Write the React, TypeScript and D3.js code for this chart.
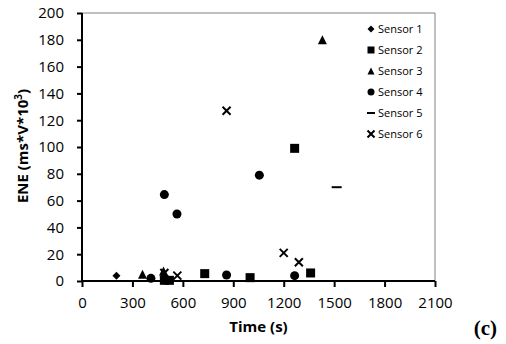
import { useEffect, useRef } from 'react'
import * as d3 from 'd3'

// values: [time (s), ENE]
const sensor1 = [[205, 4], [490, 3]]
const sensor2 = [[490, 0.5], [520, 0.5], [730, 5.5], [1000, 2.5], [1265, 99], [1360, 6]]
const sensor3 = [[360, 5], [485, 7.5], [1430, 180]]
const sensor4 = [[410, 2], [490, 64.5], [565, 50], [860, 4.5], [1055, 79], [1265, 4]]
const sensor5 = [[1515, 70]]
const sensor6 = [[490, 6], [567, 4], [860, 127], [1200, 21], [1290, 14]]

const seriesNames = ['Sensor 1', 'Sensor 2', 'Sensor 3', 'Sensor 4', 'Sensor 5', 'Sensor 6']
const xTicks = [0, 300, 600, 900, 1200, 1500, 1800, 2100]
const yTicks = [0, 20, 40, 60, 80, 100, 120, 140, 160, 180, 200]

type Shape = 'diamond' | 'square' | 'triangle' | 'circle' | 'dash' | 'cross'

const series: { name: string; shape: Shape; pts: number[][] }[] = [
  { name: seriesNames[0], shape: 'diamond', pts: sensor1 },
  { name: seriesNames[1], shape: 'square', pts: sensor2 },
  { name: seriesNames[2], shape: 'triangle', pts: sensor3 },
  { name: seriesNames[3], shape: 'circle', pts: sensor4 },
  { name: seriesNames[4], shape: 'dash', pts: sensor5 },
  { name: seriesNames[5], shape: 'cross', pts: sensor6 },
]

const FONT = '"Open Sans", sans-serif'

// draws one marker centred at 0,0
function drawMarker(g: d3.Selection<SVGGElement, unknown, null, undefined>, shape: Shape, s: number) {
  if (shape === 'diamond') {
    g.append('path').attr('d', `M0,${-s / 2}L${s / 2},0L0,${s / 2}L${-s / 2},0Z`).attr('fill', '#000')
  } else if (shape === 'square') {
    g.append('rect').attr('x', -s / 2).attr('y', -s / 2).attr('width', s).attr('height', s).attr('fill', '#000')
  } else if (shape === 'triangle') {
    g.append('path').attr('d', `M0,${-s / 2}L${s / 2},${s / 2}L${-s / 2},${s / 2}Z`).attr('fill', '#000')
  } else if (shape === 'circle') {
    g.append('circle').attr('r', s / 2).attr('fill', '#000')
  } else if (shape === 'dash') {
    g.append('line').attr('x1', -s / 2).attr('x2', s / 2).attr('stroke', '#000').attr('stroke-width', 2)
  } else {
    const h = s / 2
    g.append('path').attr('d', `M${-h},${-h}L${h},${h}M${h},${-h}L${-h},${h}`)
      .attr('stroke', '#000').attr('stroke-width', 2).attr('fill', 'none')
  }
}

export default function App() {
  const svgRef = useRef<SVGSVGElement>(null)

  useEffect(() => {
    if (!svgRef.current) return
    const width = 506
    const height = 344
    const margin = { top: 13, right: 71, bottom: 63, left: 82 }

    const svg = d3.select(svgRef.current)
    svg.selectAll('*').remove()
    svg.attr('width', width).attr('height', height)

    const innerWidth = width - margin.left - margin.right
    const innerHeight = height - margin.top - margin.bottom

    const x = d3.scaleLinear().domain([0, 2100]).range([0, innerWidth])
    const y = d3.scaleLinear().domain([0, 200]).range([innerHeight, 0])

    const g = svg.append('g').attr('transform', `translate(${margin.left},${margin.top})`)

    // plot area border (top/right)
    g.append('path')
      .attr('d', `M0,0H${innerWidth}V${innerHeight}`)
      .attr('fill', 'none')
      .attr('stroke', '#808080')
      .attr('stroke-width', 1)

    // axes
    const xAxis = g.append('g')
      .attr('transform', `translate(0,${innerHeight})`)
      .call(d3.axisBottom(x).tickValues(xTicks).tickSize(6).tickPadding(10).tickFormat(d3.format('d')))
    const yAxis = g.append('g')
      .call(d3.axisLeft(y).tickValues(yTicks).tickSize(5).tickPadding(13).tickFormat(d3.format('d')))

    for (const ax of [xAxis, yAxis]) {
      ax.select('.domain').attr('stroke', '#000').attr('stroke-width', 2)
      ax.selectAll('.tick line').attr('stroke', '#000').attr('stroke-width', 2)
      ax.selectAll('.tick text')
        .attr('fill', '#000')
        .attr('font-family', FONT)
        .attr('font-size', 15)
    }
    yAxis.select('.domain').attr('d', `M0,${innerHeight + 1}V0`)
    xAxis.select('.domain').attr('d', `M-1,0H${innerWidth}`)

    // points
    series.forEach(sr => {
      sr.pts.forEach(p => {
        const m = g.append('g').attr('transform', `translate(${x(p[0])},${y(p[1])})`)
        const size = sr.shape === 'circle' ? 9 : sr.shape === 'diamond' ? 8 : sr.shape === 'dash' ? 10 : sr.shape === 'cross' ? 8 : 9
        drawMarker(m, sr.shape, size)
      })
    })

    // legend
    const legend = g.append('g').attr('transform', `translate(${innerWidth - 64},16)`)
    series.forEach((sr, i) => {
      const row = legend.append('g').attr('transform', `translate(0,${i * 21})`)
      const m = row.append('g')
      drawMarker(m, sr.shape, sr.shape === 'dash' ? 8 : 7)
      row.append('text')
        .attr('x', 7)
        .attr('dy', '0.35em')
        .attr('font-family', FONT)
        .attr('font-size', 11)
        .attr('fill', '#000')
        .text(sr.name)
    })

    // axis titles
    svg.append('text')
      .attr('x', margin.left + x(1050))
      .attr('y', 332)
      .attr('text-anchor', 'middle')
      .attr('font-family', FONT)
      .attr('font-weight', 'bold')
      .attr('font-size', 15)
      .text('Time (s)')

    const yTitle = svg.append('text')
      .attr('transform', `translate(28,146) rotate(-90)`)
      .attr('text-anchor', 'middle')
      .attr('font-family', FONT)
      .attr('font-weight', 'bold')
      .attr('font-size', 15)
    yTitle.append('tspan').text('ENE (ms*V*10')
    yTitle.append('tspan').attr('font-size', 10).attr('dy', -6).text('3')
    yTitle.append('tspan').attr('dy', 6).text(')')

    svg.append('text')
      .attr('x', 497)
      .attr('y', 335)
      .attr('text-anchor', 'end')
      .attr('font-family', '"Liberation Serif", serif')
      .attr('font-weight', 'bold')
      .attr('font-size', 21)
      .text('(c)')
  }, [])

  return (
    <div style={{ position: 'absolute', left: 0, top: 0, background: '#fff' }}>
      <svg ref={svgRef} style={{ display: 'block' }} />
    </div>
  )
}
